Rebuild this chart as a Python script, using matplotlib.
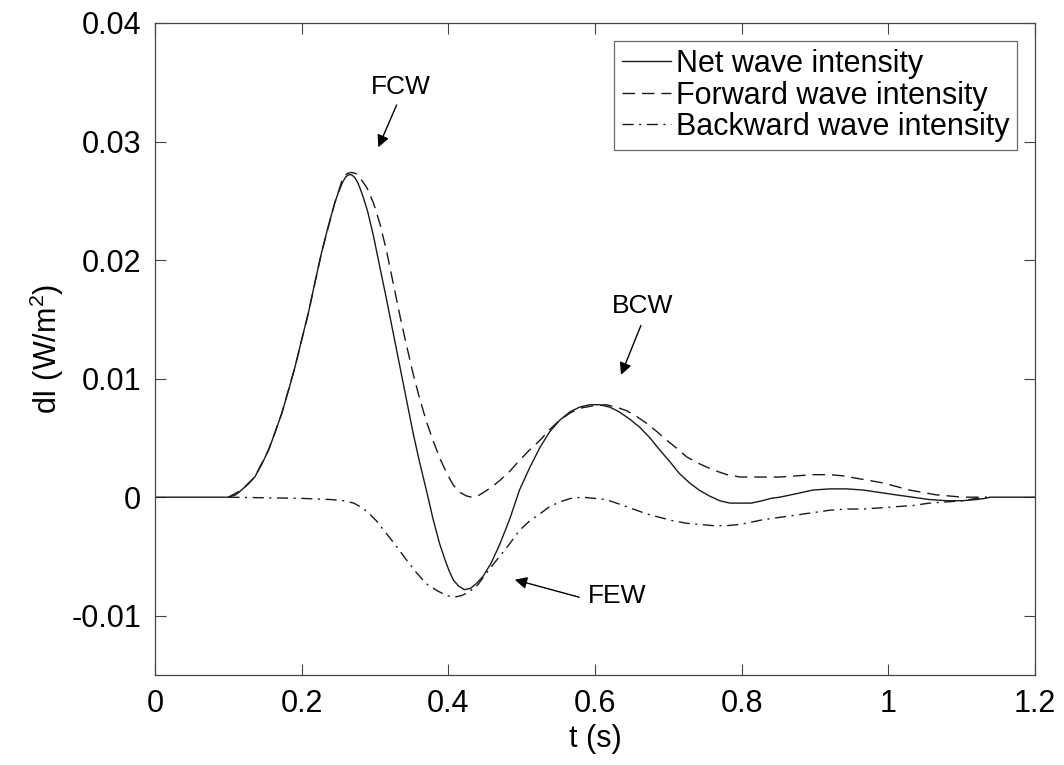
import matplotlib
matplotlib.use("Agg")
import matplotlib.pyplot as plt

# values
t_net = [0.0, 0.100, 0.110, 0.118, 0.127, 0.136, 0.145, 0.155, 0.164, 0.173,
         0.182, 0.191, 0.200, 0.209, 0.218, 0.227, 0.236, 0.245, 0.250, 0.256,
         0.260, 0.264, 0.268, 0.272, 0.276, 0.280, 0.284, 0.290, 0.298, 0.307,
         0.316, 0.325, 0.334, 0.343, 0.352, 0.361, 0.370, 0.379, 0.388, 0.395,
         0.401, 0.407, 0.414, 0.422, 0.430, 0.438, 0.447, 0.458, 0.470, 0.484,
         0.497, 0.511, 0.525, 0.538, 0.552, 0.566, 0.579, 0.593, 0.606, 0.620,
         0.633, 0.647, 0.661, 0.675, 0.688, 0.702, 0.715, 0.729, 0.742, 0.756,
         0.770, 0.784, 0.798, 0.813, 0.828, 0.840, 0.852, 0.875, 0.897, 0.920,
         0.943, 0.966, 0.988, 1.010, 1.033, 1.056, 1.079, 1.100, 1.120, 1.132,
         1.139, 1.2]
net = [0.0, 0.0, 0.0002, 0.0006, 0.0011, 0.0017, 0.0027, 0.0040, 0.0055, 0.0071,
       0.0090, 0.0110, 0.0133, 0.0155, 0.0181, 0.0206, 0.0228, 0.0248, 0.0257, 0.0266,
       0.0270, 0.0272, 0.0272, 0.0270, 0.0266, 0.0260, 0.0253, 0.0241, 0.0220, 0.0193,
       0.0166, 0.0138, 0.0110, 0.0082, 0.0054, 0.0029, 0.0006, -0.0018, -0.0039, -0.0052,
       -0.0062, -0.0070, -0.0075, -0.0078, -0.0077, -0.0073, -0.0067, -0.0056, -0.0040, -0.0018,
       0.0006, 0.0025, 0.0042, 0.0055, 0.0065, 0.0072, 0.0076, 0.0078, 0.0078, 0.0076,
       0.0072, 0.0066, 0.0059, 0.0050, 0.0040, 0.0030, 0.0020, 0.0012, 0.0006, 0.0001,
       -0.0003, -0.0005, -0.0005, -0.0005, -0.0003, -0.0001, 0.0000, 0.0003, 0.0006, 0.0007,
       0.0007, 0.0006, 0.0004, 0.0002, 0.0000, -0.0002, -0.0003, -0.0003, -0.0002, -0.0001,
       0.0, 0.0]

t_fwd = [0.100, 0.118, 0.136, 0.155, 0.173, 0.191, 0.209, 0.227, 0.245, 0.256,
         0.262, 0.268, 0.274, 0.280, 0.289, 0.298, 0.307, 0.316, 0.325, 0.334,
         0.343, 0.352, 0.361, 0.370, 0.379, 0.389, 0.398, 0.407, 0.416, 0.425,
         0.432, 0.440, 0.448, 0.458, 0.470, 0.484, 0.497, 0.511, 0.525, 0.538,
         0.552, 0.566, 0.579, 0.597, 0.615, 0.629, 0.643, 0.657, 0.671, 0.685,
         0.698, 0.712, 0.725, 0.743, 0.761, 0.780, 0.798, 0.813, 0.829, 0.852,
         0.875, 0.898, 0.920, 0.938, 0.956, 0.975, 0.993, 1.011, 1.029, 1.047,
         1.065, 1.083, 1.101, 1.120, 1.134]
fwd = [0.0, 0.0006, 0.0017, 0.0040, 0.0071, 0.0110, 0.0155, 0.0206, 0.0248, 0.0269,
       0.0273, 0.0274, 0.0273, 0.0269, 0.0261, 0.0248, 0.0230, 0.0207, 0.0180, 0.0153,
       0.0128, 0.0104, 0.0083, 0.0064, 0.0048, 0.0032, 0.0020, 0.0010, 0.0004, 0.0001,
       0.0000, 0.0001, 0.0004, 0.0008, 0.0014, 0.0022, 0.0031, 0.0040, 0.0048, 0.0057,
       0.0065, 0.0071, 0.0075, 0.0077, 0.0078, 0.0076, 0.0073, 0.0068, 0.0062, 0.0055,
       0.0048, 0.0041, 0.0034, 0.0028, 0.0023, 0.0019, 0.0017, 0.0017, 0.0017, 0.0017,
       0.0018, 0.0019, 0.0019, 0.0018, 0.0016, 0.0014, 0.0012, 0.0009, 0.0006, 0.0004,
       0.0002, 0.0001, 0.0000, 0.0000, 0.0]

t_bwd = [0.100, 0.150, 0.200, 0.240, 0.257, 0.271, 0.280, 0.289, 0.302, 0.316,
         0.330, 0.343, 0.357, 0.370, 0.385, 0.398, 0.405, 0.411, 0.418, 0.425,
         0.432, 0.440, 0.452, 0.462, 0.470, 0.484, 0.497, 0.511, 0.525, 0.538,
         0.552, 0.567, 0.583, 0.599, 0.615, 0.634, 0.652, 0.670, 0.688, 0.707,
         0.725, 0.743, 0.761, 0.780, 0.798, 0.829, 0.852, 0.875, 0.898, 0.920,
         0.943, 0.966, 0.989, 1.011, 1.034, 1.056, 1.079, 1.101, 1.120, 1.134]
bwd = [0.0, -0.00005, -0.0001, -0.0002, -0.0003, -0.0005, -0.0008, -0.0012, -0.0020, -0.0031,
       -0.0042, -0.0053, -0.0064, -0.0073, -0.0079, -0.0083, -0.0084, -0.0084, -0.0083, -0.0081,
       -0.0078, -0.0074, -0.0064, -0.0056, -0.0050, -0.0039, -0.0028, -0.0020, -0.0014, -0.0008,
       -0.0004, -0.0001, 0.0000, -0.0001, -0.0002, -0.0006, -0.0010, -0.0014, -0.0017, -0.0020,
       -0.0022, -0.0023, -0.0024, -0.0024, -0.0023, -0.0019, -0.0017, -0.0015, -0.0013, -0.0011,
       -0.0010, -0.0010, -0.0009, -0.0008, -0.0007, -0.0005, -0.0004, -0.0003, -0.0001, 0.0]

series_labels = ["Net wave intensity", "Forward wave intensity", "Backward wave intensity"]
xticks = [0, 0.2, 0.4, 0.6, 0.8, 1.0, 1.2]
xtick_labels = ["0", "0.2", "0.4", "0.6", "0.8", "1", "1.2"]
yticks = [-0.01, 0, 0.01, 0.02, 0.03, 0.04]
ytick_labels = ["-0.01", "0", "0.01", "0.02", "0.03", "0.04"]

plt.rcParams["font.family"] = ["Liberation Sans", "DejaVu Sans"]
plt.rcParams["mathtext.fontset"] = "custom"
plt.rcParams["mathtext.rm"] = "Liberation Sans"

fig = plt.figure(figsize=(10.64, 7.65), dpi=100)
ax = fig.add_axes([155 / 1064, 1 - 675 / 765, 880 / 1064, 652 / 765])

col = "#1a1a1a"
kw = dict(color=col, lw=1.0, solid_joinstyle="round", dash_joinstyle="round")
ax.plot(t_net, net, label=series_labels[0], **kw)
ax.plot(t_fwd, fwd, dashes=(9, 5), label=series_labels[1], **kw)
ax.plot(t_bwd, bwd, dashes=(8, 4, 1.5, 4), label=series_labels[2], **kw)

ax.set_xlim(0, 1.2)
ax.set_ylim(-0.015, 0.04)
ax.set_xticks(xticks)
ax.set_xticklabels(xtick_labels)
ax.set_yticks(yticks)
ax.set_yticklabels(ytick_labels)
ax.tick_params(direction="in", length=8, width=0.8, top=True, right=True,
               labelsize=22, color="#444444", pad=10)
for s in ax.spines.values():
    s.set_linewidth(0.9)
    s.set_color("#444444")

ax.set_xlabel("t (s)", fontsize=22, labelpad=4)
ax.set_ylabel("dI (W/m$^2$)", fontsize=22, labelpad=4)

leg = ax.legend(loc="upper right", fontsize=22, frameon=True, fancybox=False,
                handlelength=1.6, handletextpad=0.15, borderpad=0.25,
                labelspacing=0.05, borderaxespad=0.6)
leg.get_frame().set_edgecolor("#444444")
leg.get_frame().set_linewidth(0.9)

arrow = dict(arrowstyle="-|>", color="black", lw=1.0, mutation_scale=18)
ax.annotate("", xy=(0.303, 0.0293), xytext=(0.331, 0.0333), arrowprops=arrow)
ax.text(0.3355, 0.0346, "FCW", ha="center", va="center", fontsize=19)
ax.annotate("", xy=(0.634, 0.0101), xytext=(0.664, 0.0147), arrowprops=arrow)
ax.text(0.6655, 0.0161, "BCW", ha="center", va="center", fontsize=19)
ax.annotate("", xy=(0.487, -0.0069), xytext=(0.582, -0.0085), arrowprops=arrow)
ax.text(0.630, -0.0083, "FEW", ha="center", va="center", fontsize=19)

fig.savefig("out.png", dpi=100)
plt.close(fig)
